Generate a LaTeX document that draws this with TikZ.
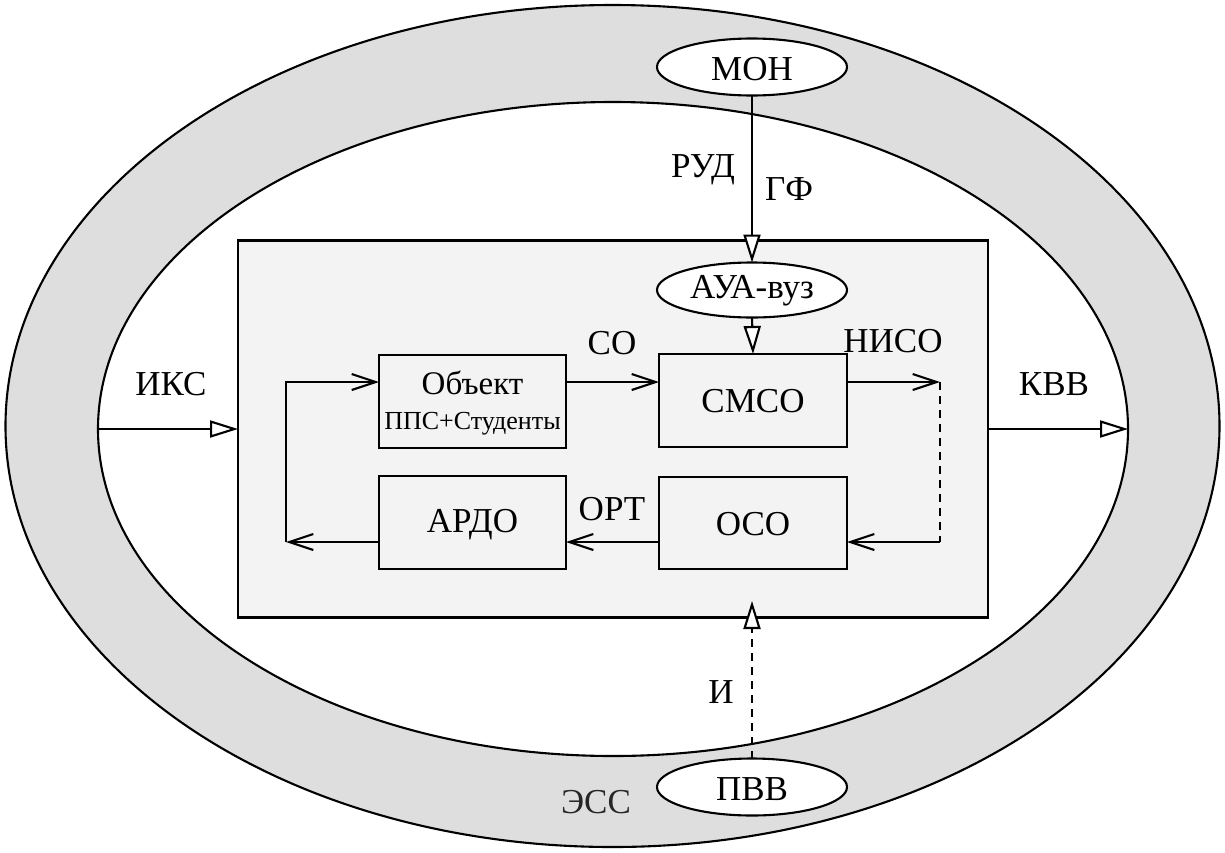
\documentclass[tikz,border=0pt]{standalone}
\usepackage{fontspec}
\setmainfont{Liberation Serif}
\usetikzlibrary{arrows.meta,shapes.geometric}
\definecolor{ringgray}{HTML}{DEDEDE}
\definecolor{panelgray}{HTML}{F3F3F3}
\begin{document}
\begin{tikzpicture}[x=1pt,y=-1pt,line width=2.1pt,
  lbl/.style={font=\fontsize{35}{38}\selectfont,inner sep=0pt,anchor=base},
  ovalnode/.style={draw,ellipse,fill=white,inner sep=0pt,outer sep=0pt,minimum width=190pt,minimum height=56pt},
  boxnode/.style={draw,rectangle,fill=panelgray,inner sep=0pt,outer sep=0pt,minimum width=187pt,minimum height=93pt},
  sarrow/.style={-{Straight Barb[length=24pt,width=16pt]}},
  barrow/.style={-{Triangle[length=28pt,width=17pt,fill=white]}},
  dashline/.style={dash pattern=on 8pt off 6pt}]
\useasboundingbox (0,0) rectangle (1225,852);
% ring
\node[draw,ellipse,fill=ringgray,inner sep=0pt,outer sep=0pt,minimum width=1214pt,minimum height=842pt] (outer) at (612.5,426) {};
\node[draw,ellipse,fill=white,inner sep=0pt,outer sep=0pt,minimum width=1030pt,minimum height=654pt] (inner) at (613,429) {};
\node[draw,rectangle,fill=panelgray,inner sep=0pt,outer sep=0pt,minimum width=750pt,minimum height=377pt] (frame) at (613,429) {};
% ovals
\node[ovalnode,minimum height=57pt] (mon) at (752,67) {};
\node[lbl] (montxt) at (752,80) {МОН};
\node[ovalnode,minimum height=55pt] (aua) at (752,290) {};
\node[lbl] (auatxt) at (752,298) {АУА-вуз};
\node[ovalnode,minimum height=57pt] (pvv) at (752,787) {};
\node[lbl] (pvvtxt) at (752,800) {ПВВ};
% boxes
\node[boxnode] (obj) at (472.5,401.5) {};
\node[lbl,font=\fontsize{33}{36}\selectfont] (objtxt) at (472.5,394) {Объект};
\node[lbl,font=\fontsize{26}{29}\selectfont] (objsub) at (472.5,429) {ППС+Студенты};
\node[boxnode,minimum width=188pt] (smso) at (753,400.5) {};
\node[lbl] (smsotxt) at (753,412) {СМСО};
\node[boxnode] (ardo) at (472.5,522.5) {};
\node[lbl] (ardotxt) at (472.5,532) {АРДО};
\node[boxnode,minimum width=188pt,minimum height=92pt] (oso) at (753,523) {};
\node[lbl] (osotxt) at (753,535) {ОСО};
% helper coordinates
\coordinate (lt) at (286,382);
\coordinate (lb) at (286,542);
\coordinate (rt) at (940,382);
\coordinate (rb) at (940,542);
\coordinate (itip) at (752,601);
% inner connectors
\draw[sarrow] (lb -| ardo.west) -- (lb);
\draw[sarrow] (lb) -- (lt) -- (lt -| obj.west);
\draw[sarrow] (lt -| obj.east) -- (lt -| smso.west);
\draw[sarrow] (lt -| smso.east) -- (rt);
\draw[dashline] (rt) -- (rb);
\draw[sarrow] (rb) -- (rb -| oso.east);
\draw[sarrow] (lb -| oso.west) -- (lb -| ardo.east);
% big arrows
\draw[barrow] (mon.south) -- (aua.north);
\draw[barrow] (aua.south) -- (smso.north);
\draw[barrow] (inner.west) -- (frame.west);
\draw[barrow] (frame.east) -- (inner.east);
\draw[barrow,dashline] (pvv.north) -- (itip);
% labels
\node[lbl] (rud) at (703,177) {РУД};
\node[lbl] (gf) at (789,200) {ГФ};
\node[lbl] (so) at (612,354) {СО};
\node[lbl] (ort) at (612,520) {ОРТ};
\node[lbl] (niso) at (893,352) {НИСО};
\node[lbl] (iks) at (171,395) {ИКС};
\node[lbl] (kvv) at (1054,395) {КВВ};
\node[lbl] (ii) at (721,703) {И};
\node[lbl,text=black!85] (ess) at (596,813) {ЭСС};
\end{tikzpicture}
\end{document}
